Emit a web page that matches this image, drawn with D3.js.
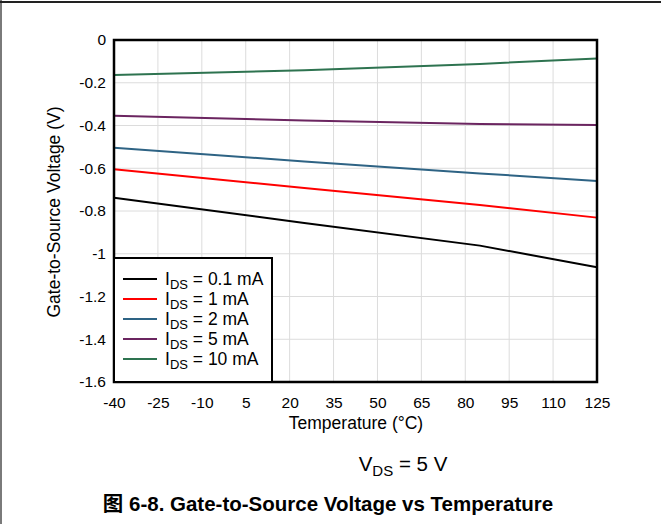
<!DOCTYPE html>
<html><head><meta charset="utf-8">
<script src="https://cdn.jsdelivr.net/npm/d3@7"></script>
<style>body{margin:0;background:#fff;} svg{display:block;}</style>
</head><body>
<svg id="c" width="661" height="524"></svg>
<script>
const temps = [-40, 25, 85, 125];
const series = [
  {label: "0.1 mA", color: "#000000", values: [-0.738, -0.856, -0.962, -1.063]},
  {label: "1 mA",   color: "#ff0000", values: [-0.605, -0.692, -0.772, -0.831]},
  {label: "2 mA",   color: "#2e6384", values: [-0.504, -0.568, -0.624, -0.660]},
  {label: "5 mA",   color: "#6b2560", values: [-0.354, -0.377, -0.393, -0.398]},
  {label: "10 mA",  color: "#2e7350", values: [-0.164, -0.141, -0.112, -0.086]}
];
const xTicks = [-40, -25, -10, 5, 20, 35, 50, 65, 80, 95, 110, 125];
const yTicks = [0, -0.2, -0.4, -0.6, -0.8, -1, -1.2, -1.4, -1.6];

const svg = d3.select("#c");
const L = 114, R = 597, T = 40, B = 382;
const x = d3.scaleLinear().domain([-40, 125]).range([L, R]);
const y = d3.scaleLinear().domain([0, -1.6]).range([T, B]);
const font = "'Liberation Sans', Arial, sans-serif";

// page border
svg.append("rect").attr("x", 0).attr("y", 0).attr("width", 2).attr("height", 524).attr("fill", "#7a7a7a");
svg.append("rect").attr("x", 0).attr("y", 1).attr("width", 661).attr("height", 2).attr("fill", "#222");

// grid
svg.append("g").selectAll("line").data(xTicks).join("line")
  .attr("x1", d => x(d)).attr("x2", d => x(d)).attr("y1", T).attr("y2", B)
  .attr("stroke", "#dcdcdc").attr("stroke-width", 1);
svg.append("g").selectAll("line").data(yTicks).join("line")
  .attr("x1", L).attr("x2", R).attr("y1", d => y(d)).attr("y2", d => y(d))
  .attr("stroke", "#dcdcdc").attr("stroke-width", 1);

const fmt = d => String(d);  // plain hyphen-minus like the reference

// axes (labels)
const xAxis = d3.axisBottom(x).tickValues(xTicks).tickSize(0).tickPadding(15).tickFormat(fmt);
const gx = svg.append("g").attr("transform", `translate(0,${B})`).call(xAxis);
gx.select(".domain").remove();
gx.selectAll("text").attr("font-family", font).attr("font-size", 15.5).attr("fill", "#000");

const yAxis = d3.axisLeft(y).tickValues(yTicks).tickSize(0).tickPadding(8).tickFormat(fmt);
const gy = svg.append("g").attr("transform", `translate(${L},0)`).call(yAxis);
gy.select(".domain").remove();
gy.selectAll("text").attr("font-family", font).attr("font-size", 15.5).attr("fill", "#000");

// lines
const line = d3.line().x((d, i) => x(temps[i])).y(d => y(d));
svg.append("g").selectAll("path").data(series).join("path")
  .attr("d", d => line(d.values)).attr("fill", "none")
  .attr("stroke", d => d.color).attr("stroke-width", 2);

// frame
svg.append("rect").attr("x", L).attr("y", T).attr("width", R - L).attr("height", B - T)
  .attr("fill", "none").attr("stroke", "#000").attr("stroke-width", 2.5);

// legend
const lg = svg.append("g");
lg.append("rect").attr("x", L).attr("y", 258).attr("width", 158).attr("height", B - 258)
  .attr("fill", "#fff").attr("stroke", "#000").attr("stroke-width", 2);
series.forEach((s, i) => {
  const yy = 279 + i * 20;
  lg.append("line").attr("x1", 123).attr("x2", 157).attr("y1", yy).attr("y2", yy)
    .attr("stroke", s.color).attr("stroke-width", 2);
  const t = lg.append("text").attr("x", 165).attr("y", yy + 6)
    .attr("font-family", font).attr("font-size", 17.5).attr("fill", "#000");
  t.append("tspan").text("I");
  t.append("tspan").attr("font-size", 13).attr("dy", 4).text("DS");
  t.append("tspan").attr("dy", -4).text(" = " + s.label);
});

// axis titles
svg.append("text").attr("x", 356).attr("y", 429).attr("text-anchor", "middle")
  .attr("font-family", font).attr("font-size", 17.5).text("Temperature (°C)");
svg.append("text").attr("transform", `translate(60,212) rotate(-90)`).attr("text-anchor", "middle")
  .attr("font-family", font).attr("font-size", 17.5).text("Gate-to-Source Voltage (V)");

// condition
const v = svg.append("text").attr("x", 403).attr("y", 471).attr("text-anchor", "middle")
  .attr("font-family", font).attr("font-size", 20.5);
v.append("tspan").text("V");
v.append("tspan").attr("font-size", 15).attr("dy", 5).text("DS");
v.append("tspan").attr("dy", -5).text(" = 5 V");

// caption
svg.append("text").attr("x", 328).attr("y", 511).attr("text-anchor", "middle")
  .attr("font-family", "'Liberation Sans', 'Noto Sans CJK SC', Arial, sans-serif")
  .attr("font-size", 20.5).attr("font-weight", "bold")
  .text("图 6-8. Gate-to-Source Voltage vs Temperature");
</script>
</body></html>
